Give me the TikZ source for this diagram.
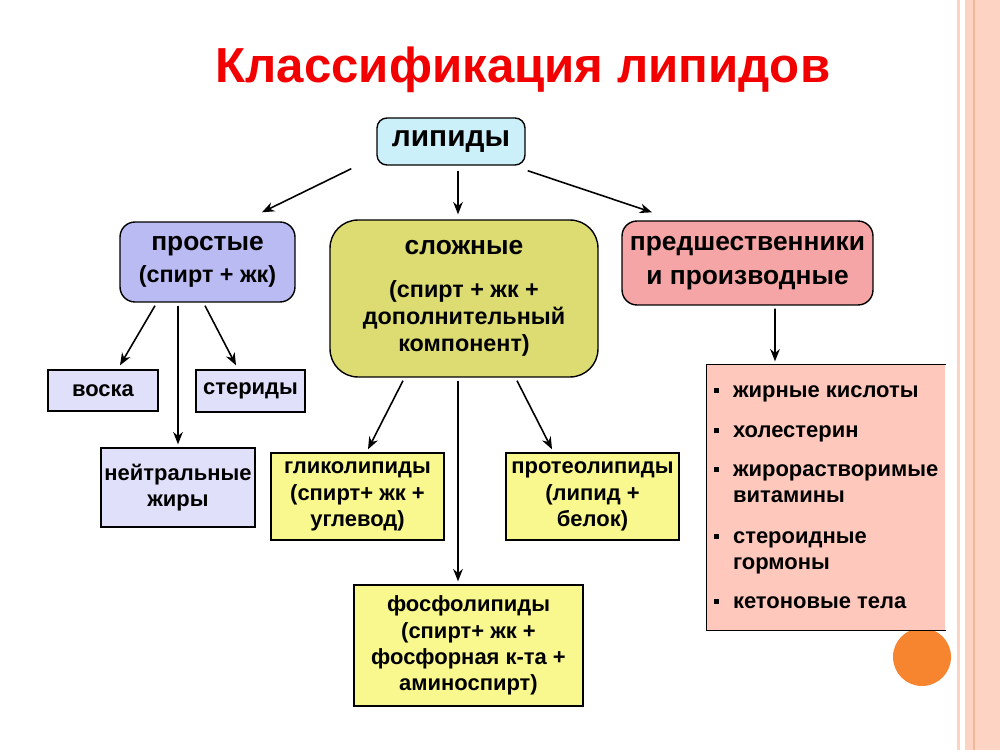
\documentclass[tikz,border=0pt]{standalone}
\usepackage{fontspec}
\setmainfont{Liberation Sans}
\usepackage{tikz}
\usetikzlibrary{arrows.meta,positioning}
\definecolor{lipcol}{HTML}{CCF0FA}
\definecolor{prostcol}{HTML}{BBBBF4}
\definecolor{prostlt}{HTML}{E0E0FA}
\definecolor{slozhcol}{HTML}{DCDC72}
\definecolor{slozhlt}{HTML}{F8F88E}
\definecolor{predcol}{HTML}{F5A5A5}
\definecolor{predlt}{HTML}{FFC8BC}
\definecolor{titlered}{HTML}{F20000}
\definecolor{dotorange}{HTML}{F7842F}
\definecolor{stripe}{HTML}{FDD3C4}
\definecolor{stripedk}{HTML}{F2B898}
\newcommand{\bul}{\rule[2.5pt]{3pt}{3pt}}
\newcommand{\subfont}{\fontsize{13.3}{15.5}\selectfont}

\begin{document}
\begin{tikzpicture}[x=0.02cm,y=-0.02cm,
  bx/.style={draw,line width=0.8pt,inner sep=0pt,align=center,font=\bfseries},
  big/.style={bx,rounded corners=0.3cm,font=\bfseries\fontsize{15}{17}\selectfont},
  small/.style={bx,font=\bfseries\fontsize{12.5}{15}\selectfont},
  arr/.style={-{Stealth[length=7pt,width=5.5pt]},line width=0.9pt}]
 \useasboundingbox (0,0) rectangle (1000,750);
 % slide decoration
 \fill[stripe] (957,0) rectangle (960,750);
 \fill[stripe] (965,0) rectangle (1000,750);
 \fill[stripedk] (973,0) rectangle (975,750);
 \fill[dotorange] (922,657) circle (29);
 \node[font=\bfseries\fontsize{28}{32}\selectfont,text=titlered] (title) at (523,70) {Классификация липидов};
 % boxes
 \node[bx,rounded corners=0.2cm,fill=lipcol,minimum width=2.96cm,minimum height=0.94cm,font=\bfseries\fontsize{17}{20}\selectfont] (lip) at (451,141.5) {липиды};
 \node[big,fill=prostcol,minimum width=3.5cm,minimum height=1.6cm] (prost) at (207.5,262) {простые\\[1pt]\subfont(спирт + жк)};
 \node[big,rounded corners=0.56cm,fill=slozhcol,minimum width=5.36cm,minimum height=3.14cm,font=\bfseries\fontsize{15}{15.5}\selectfont] (slozh) at (464,298.5) {сложные\\[9pt]\subfont(спирт + жк +\\\subfont дополнительный\\\subfont компонент)};
 \node[big,fill=predcol,minimum width=5.02cm,minimum height=1.68cm,font=\bfseries\fontsize{15}{19}\selectfont] (pred) at (747.5,263) {предшественники\\и производные};
 \node[small,fill=prostlt,minimum width=2.2cm,minimum height=0.82cm] (voska) at (103,390.5) {воска};
 \node[small,fill=prostlt,minimum width=2.18cm,minimum height=0.84cm] (sterid) at (250.5,391) {стериды};
 \node[small,fill=prostlt,minimum width=3.08cm,minimum height=1.58cm] (neitr) at (178,487.5) {нейтральные\\жиры};
 \node[small,fill=slozhlt,minimum width=3.46cm,minimum height=1.74cm] (glik) at (357.5,496.5) {гликолипиды\\(спирт+ жк +\\углевод)};
 \node[small,fill=slozhlt,minimum width=3.46cm,minimum height=1.74cm] (proteo) at (592.5,496.5) {протеолипиды\\(липид +\\белок)};
 \node[small,fill=slozhlt,minimum width=4.58cm,minimum height=2.42cm] (fosfo) at (468.5,645.5) {фосфолипиды\\(спирт+ жк +\\фосфорная к-та +\\аминоспирт)};
 \node[small,draw=none,fill=predlt,minimum width=4.76cm,minimum height=5.3cm,align=left] (lst) at (826,497.5) {%
  \begin{tabular}{@{}l@{\hspace{8pt}}l@{}}
   \bul & жирные кислоты\\[8pt]
   \bul & холестерин\\[7pt]
   \bul & жирорастворимые\\
        & витамины\\[8pt]
   \bul & стероидные\\
        & гормоны\\[7pt]
   \bul & кетоновые тела
  \end{tabular}};
 \draw[line width=0.8pt] (lst.north east) -- (lst.north west) -- (lst.south west) -- (lst.south east);
 % arrows
 \draw[arr] ([shift={(-25,3)}]lip.south west) -- ([shift={(54.5,-9)}]prost.north);
 \draw[arr] ([shift={(7,5)}]lip.south) -- ([shift={(-6,-5)}]slozh.north);
 \draw[arr] ([shift={(2,5)}]lip.south east) -- ([shift={(-95.5,-8)}]pred.north);
 \draw[arr] ([shift={(-52.5,3)}]prost.south) -- ([shift={(17,-4)}]voska.north);
 \draw[arr] ([shift={(-29.5,3)}]prost.south) -- ([shift={(0,-3)}]neitr.north);
 \draw[arr] ([shift={(-2.5,3)}]prost.south) -- ([shift={(-14.5,-4)}]sterid.north);
 \draw[arr] ([shift={(-61,3)}]slozh.south) -- ([shift={(10.5,-3)}]glik.north);
 \draw[arr] ([shift={(-6,3)}]slozh.south) -- ([shift={(-10.5,-3)}]fosfo.north);
 \draw[arr] ([shift={(53,3)}]slozh.south) -- ([shift={(-40.5,-3)}]proteo.north);
 \draw[arr] ([shift={(27.5,3)}]pred.south) -- ([shift={(-51,-3)}]lst.north);
\end{tikzpicture}
\end{document}
